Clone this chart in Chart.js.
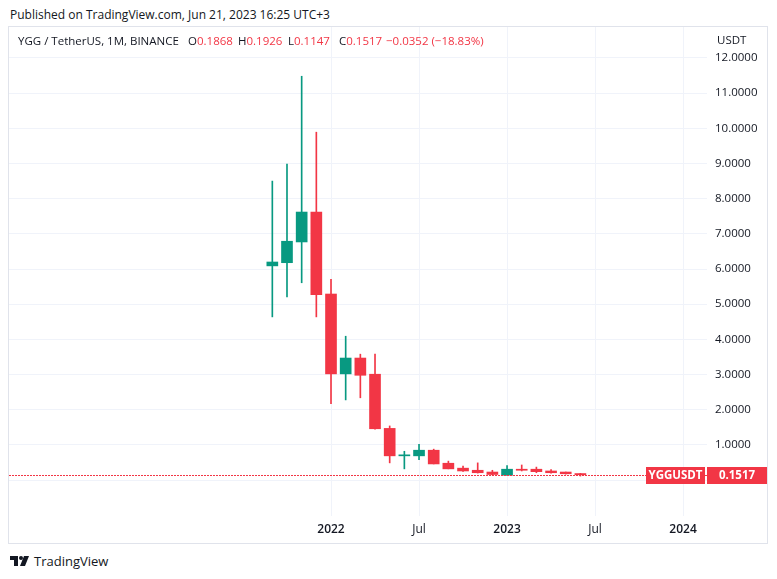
<!DOCTYPE html>
<html>
<head>
<meta charset="utf-8">
<script src="https://cdn.jsdelivr.net/npm/chart.js@4.4.0/dist/chart.umd.min.js"></script>
<style>
    body {
        margin: 0;
        width: 777px;
        height: 579px;
        background: #ffffff;
        position: relative;
        overflow: hidden;
        font-family: 'Open Sans', sans-serif;
        color: #131722;
    }
    .abs { position: absolute; white-space: nowrap; }
    #published { left: 10px; top: 6px; font-size: 12px; }
    #frame {
        left: 8px; top: 26px; width: 760px; height: 518px;
        border: 1px solid #e0e3eb; box-sizing: border-box;
    }
    #chartBox { left: 9px; top: 27px; width: 758px; height: 516px; }
    .legend { top: 33px; font-size: 11.5px; }
    .red { color: #f23645; }
    #unit { left: 717px; top: 32px; font-size: 11.5px; }
    #brand { left: 10px; top: 552px; font-size: 13px; display: flex; align-items: center; }
    #brand svg { margin-right: 5px; }
</style>
</head>
<body>
<div class="abs" id="published">Published on TradingView.com, Jun 21, 2023 16:25 UTC+3</div>
<div class="abs" id="frame"></div>
<div class="abs" id="chartBox"><canvas id="candles" width="758" height="516"></canvas></div>

<div class="abs legend" style="left:18px">YGG / TetherUS, 1M, BINANCE</div>
<div class="abs legend" style="left:188px">O<span class="red">0.1868</span></div>
<div class="abs legend" style="left:238px">H<span class="red">0.1926</span></div>
<div class="abs legend" style="left:288px">L<span class="red">0.1147</span></div>
<div class="abs legend" style="left:339px">C<span class="red">0.1517</span></div>
<div class="abs legend red" style="left:386px">−0.0352 (−18.83%)</div>
<div class="abs" id="unit">USDT</div>

<div class="abs" id="brand">
    <svg width="19" height="10" viewBox="0 0 19 10">
        <path d="M0 0h8v10H4V4H0z" fill="#131722"/>
        <circle cx="11" cy="2" r="2" fill="#131722"/>
        <path d="M14 0h5l-4 10h-5z" fill="#131722"/>
    </svg>
    <span>TradingView</span>
</div>

<script>
// month index: 0 = Jan 2022
const monthIdx = [-4, -3, -2, -1, 0, 1, 2, 3, 4, 5, 6, 7, 8, 9, 10, 11, 12, 13, 14, 15, 16, 17];
const opens  = [6.09, 6.18, 6.77, 7.62, 5.29, 3.02, 3.47, 3.01, 1.47, 0.69, 0.69, 0.85, 0.48, 0.34, 0.28, 0.23, 0.14, 0.31, 0.31, 0.26, 0.23, 0.1868];
const highs  = [8.50, 8.98, 11.48, 9.89, 5.71, 4.09, 3.58, 3.58, 1.54, 0.82, 1.02, 0.88, 0.54, 0.40, 0.49, 0.28, 0.41, 0.43, 0.37, 0.30, 0.23, 0.1926];
const lows   = [4.64, 5.21, 5.61, 4.64, 2.17, 2.28, 2.34, 1.45, 0.49, 0.32, 0.58, 0.46, 0.32, 0.25, 0.20, 0.15, 0.14, 0.26, 0.21, 0.20, 0.17, 0.1147];
const closes = [6.20, 6.79, 7.62, 5.27, 3.02, 3.47, 2.98, 1.46, 0.69, 0.71, 0.85, 0.46, 0.32, 0.26, 0.21, 0.16, 0.31, 0.28, 0.24, 0.21, 0.18, 0.1517];

const xTickValues = [0, 6, 12, 18, 24];
const xTickLabels = ['2022', 'Jul', '2023', 'Jul', '2024'];
const yTickValues = [0, 1, 2, 3, 4, 5, 6, 7, 8, 9, 10, 11, 12];

const lastPrice = 0.1517;
const symbolName = 'YGGUSDT';

const UP = '#089981';
const DOWN = '#f23645';
const GRID = '#f0f3fa';

const candleColors = opens.map((o, i) => closes[i] >= o ? UP : DOWN);

// dotted last-price line + labels on the right
const priceLinePlugin = {
    id: 'priceLine',
    afterDatasetsDraw(chart) {
        const { ctx, chartArea, scales } = chart;
        const py = Math.round(scales.y.getPixelForValue(lastPrice));
        ctx.save();
        ctx.fillStyle = DOWN;
        for (let px = Math.round(chartArea.left); px < chartArea.right; px += 3) {
            ctx.fillRect(px, py, 2, 1);
        }
        ctx.restore();
    },
    afterDraw(chart) {
        const { ctx, chartArea, scales } = chart;
        const py = Math.round(scales.y.getPixelForValue(lastPrice));
        ctx.save();
        ctx.fillStyle = DOWN;
        ctx.fillRect(chartArea.right - 61, py - 8, 59, 17);
        ctx.fillRect(chartArea.right, py - 8, 60, 17);
        ctx.fillStyle = '#ffffff';
        ctx.font = 'bold 11.5px "Open Sans"';
        ctx.textAlign = 'center';
        ctx.textBaseline = 'middle';
        ctx.fillText(symbolName, chartArea.right - 31.5, py + 0.5);
        ctx.fillText(lastPrice.toFixed(4), chartArea.right + 30, py + 0.5);
        ctx.restore();
    }
};

new Chart(document.getElementById('candles').getContext('2d'), {
    type: 'bar',
    data: {
        datasets: [
            {
                label: 'Body',
                data: monthIdx.map((m, i) => ({ x: m, y: [Math.min(opens[i], closes[i]), Math.max(opens[i], closes[i])] })),
                backgroundColor: candleColors,
                barThickness: 11,
                minBarLength: 1,
                grouped: false
            },
            {
                label: 'Wick',
                data: monthIdx.map((m, i) => ({ x: m, y: [lows[i], highs[i]] })),
                backgroundColor: candleColors,
                barThickness: 1,
                grouped: false
            }
        ]
    },
    options: {
        responsive: false,
        devicePixelRatio: 1,
        animation: false,
        layout: { padding: 0 },
        plugins: {
            legend: { display: false },
            tooltip: { enabled: false }
        },
        scales: {
            x: {
                type: 'linear',
                offset: false,
                min: -21.95,
                max: 25.63,
                afterBuildTicks: scale => { scale.ticks = xTickValues.map(v => ({ value: v })); },
                afterFit: scale => {
                    scale.height = 27;
                    scale.paddingLeft = 0;
                    scale.paddingRight = 0;
                },
                grid: { color: GRID, drawTicks: false, offset: false },
                border: { display: false },
                ticks: {
                    padding: 6,
                    color: '#131722',
                    maxRotation: 0,
                    autoSkip: false,
                    font: ctx => ({
                        family: 'Open Sans',
                        size: 12,
                        weight: (ctx.tick && ctx.tick.value % 12 === 0) ? '600' : 'normal'
                    }),
                    callback: value => {
                        const k = xTickValues.indexOf(value);
                        return k >= 0 ? xTickLabels[k] : '';
                    }
                }
            },
            y: {
                position: 'right',
                min: -1.02,
                max: 12.88,
                afterBuildTicks: scale => { scale.ticks = yTickValues.map(v => ({ value: v })); },
                afterFit: scale => {
                    scale.width = 60;
                    scale.paddingTop = 0;
                    scale.paddingBottom = 0;
                },
                grid: { color: GRID, drawTicks: false },
                border: { display: false },
                ticks: {
                    padding: 8,
                    color: '#131722',
                    font: { family: 'Open Sans', size: 11.5 },
                    callback: value => value >= 1 ? value.toFixed(4) : ''
                }
            }
        }
    },
    plugins: [priceLinePlugin]
});
</script>
</body>
</html>
